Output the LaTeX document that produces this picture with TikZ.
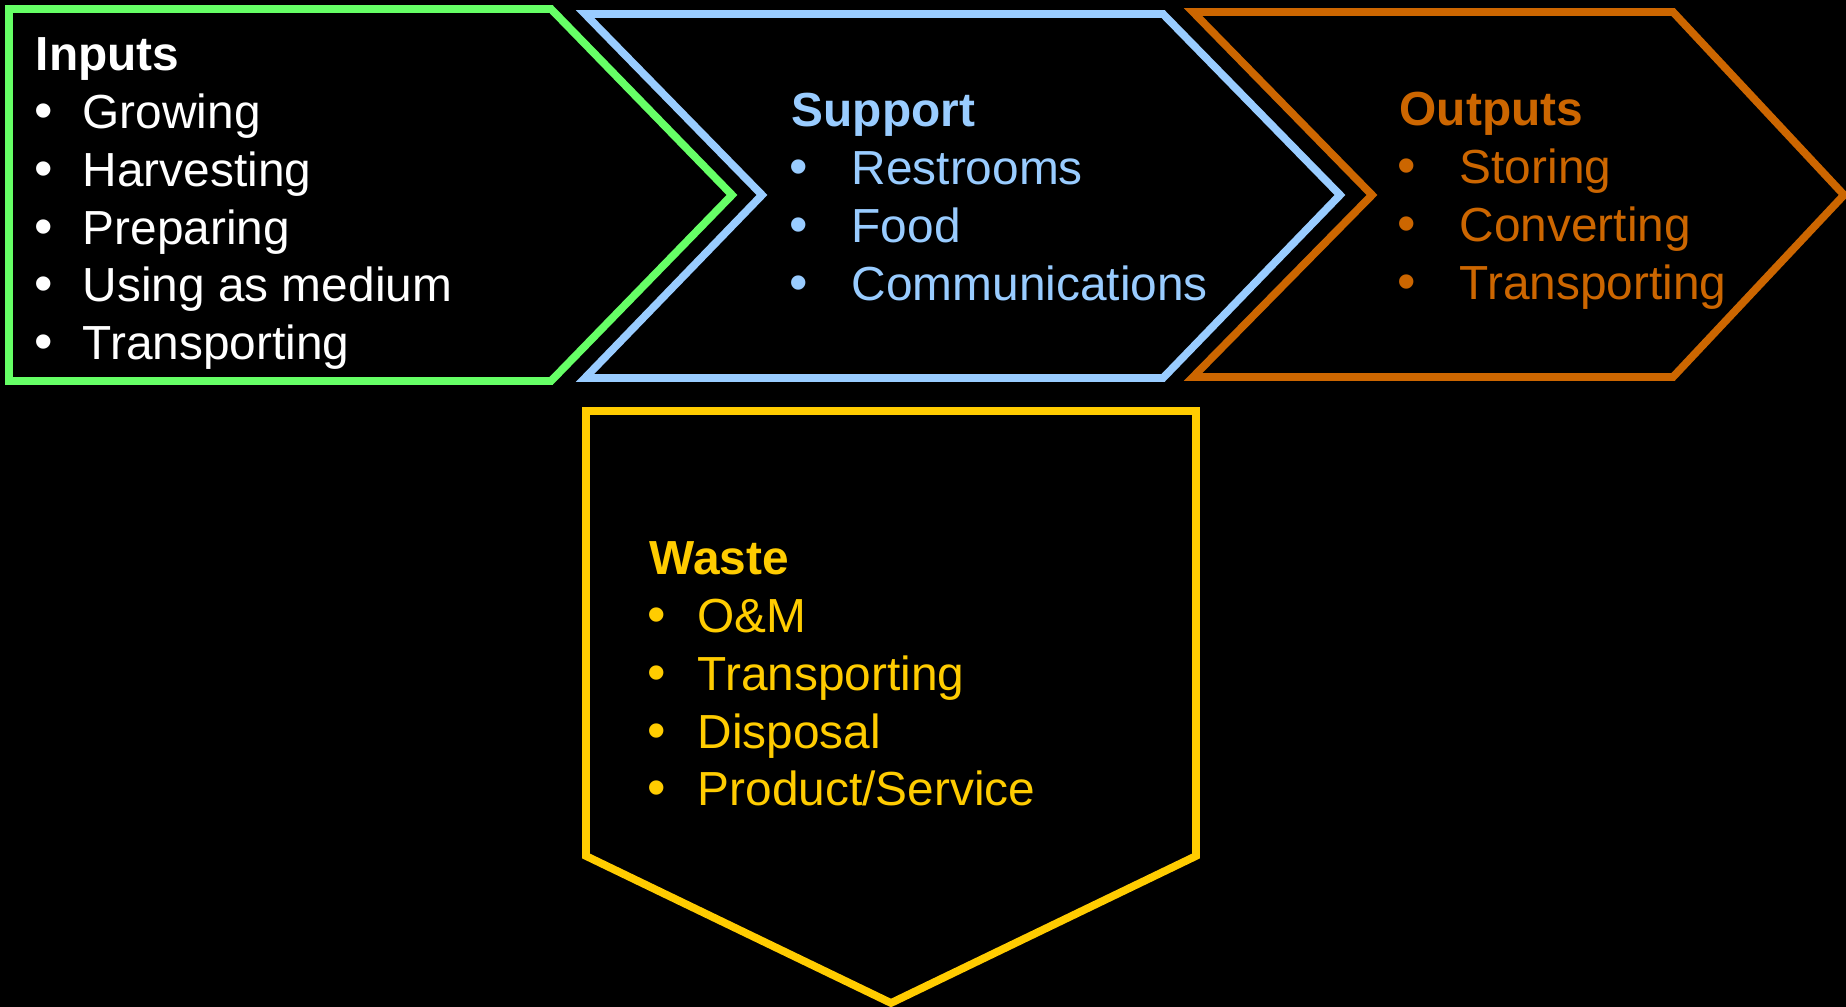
\documentclass[tikz,border=0pt]{standalone}
\usepackage{fontspec}
\setmainfont{Liberation Sans}
\usetikzlibrary{positioning}
\definecolor{ingreen}{HTML}{66FF66}
\definecolor{supblue}{HTML}{99CCFF}
\definecolor{outorange}{HTML}{CC6600}
\definecolor{wasteyellow}{HTML}{FFCC00}

\begin{document}
\begin{tikzpicture}[
            x=0.01cm,
            y=-0.01cm,
            frame/.style={line width=2.2pt, line join=miter},
            item/.style={anchor=base west, inner sep=0pt, font=\fontsize{13.6}{16}\selectfont},
            dot/.style={anchor=base, inner sep=0pt, font=\fontsize{15}{16}\selectfont},
            head/.style={anchor=base west, inner sep=0pt, font=\fontsize{13.6}{16}\selectfont\bfseries},
        ]
        \fill[black] (0,0) rectangle (1846,1007);
        \useasboundingbox (0,0) rectangle (1846,1007);
        % INPUTS
        \draw[frame, draw=ingreen] (9,9) -- (551,9) -- (732,195) -- (551,381) -- (9,381) -- cycle;
        \node[head, white] (inputs) at (35,71) {Inputs};
        \foreach \txt [count=\i] in {Growing,Harvesting,Preparing,Using as medium,Transporting} {
            \node[dot, white] (inputs-b\i) at (44,{71+57.7*\i}) {\textbullet};
            \node[item, white] (inputs-\i) at (82,{71+57.7*\i}) {\txt};
        }
        % SUPPORT
        \draw[frame, draw=supblue] (585,14) -- (1163,14) -- (1340,195) -- (1163,378) -- (585,378) -- (762,195) -- cycle;
        \node[head, supblue] (support) at (791,127) {Support};
        \foreach \txt [count=\i] in {Restrooms,Food,Communications} {
            \node[dot, supblue] (support-b\i) at (799,{127+57.7*\i}) {\textbullet};
            \node[item, supblue] (support-\i) at (851,{127+57.7*\i}) {\txt};
        }
        % OUTPUTS
        \draw[frame, draw=outorange] (1193,12) -- (1673,12) -- (1844,195) -- (1673,377) -- (1193,377) -- (1372,195) -- cycle;
        \node[head, outorange] (outputs) at (1399,126) {Outputs};
        \foreach \txt [count=\i] in {Storing,Converting,Transporting} {
            \node[dot, outorange] (outputs-b\i) at (1407,{126+57.7*\i}) {\textbullet};
            \node[item, outorange] (outputs-\i) at (1459,{126+57.7*\i}) {\txt};
        }
        % WASTE
        \draw[frame, draw=wasteyellow] (586,411) -- (1196,411) -- (1196,856) -- (891,1003) -- (586,856) -- cycle;
        \node[head, wasteyellow] (waste) at (649,575) {Waste};
        \foreach \txt [count=\i] in {O\&M,Transporting,Disposal,Product/Service} {
            \node[dot, wasteyellow] (waste-b\i) at (657,{575+57.7*\i}) {\textbullet};
            \node[item, wasteyellow] (waste-\i) at (697,{575+57.7*\i}) {\txt};
        }
\end{tikzpicture}
\end{document}
